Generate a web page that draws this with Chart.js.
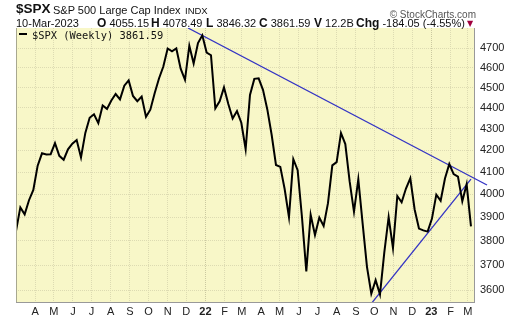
<!DOCTYPE html>
<html>
<head>
<meta charset="utf-8">
<script src="https://cdn.jsdelivr.net/npm/chart.js@4.4.1/dist/chart.umd.min.js"></script>
<style>
  body { margin: 0; background: #fff; }
  #wrap { position: relative; width: 520px; height: 318px; font-family: "Liberation Sans", Arial, sans-serif; color: #111; }
  #wrap canvas { position: absolute; left: 0; top: 0; }
  .t { position: absolute; white-space: pre; line-height: 1; font-size: 11px; }
  .b { font-weight: bold; font-size: 12px; }
</style>
</head>
<body>
<div id="wrap">
  <canvas id="spxChart" width="520" height="318"></canvas>
  <span class="t" style="left:16px;top:2px;font-size:13.5px;font-weight:bold;">$SPX</span>
  <span class="t" style="left:53px;top:5px;">S&amp;P 500 Large Cap Index</span>
  <span class="t" style="left:185px;top:6px;font-size:9.5px;">INDX</span>
  <span class="t" style="right:44px;top:10px;font-size:10px;color:#555;">© StockCharts.com</span>
  <span class="t" style="left:16px;top:18px;">10-Mar-2023</span>
  <span class="t" style="left:97px;top:17px;"><span class="b">O</span> 4055.15</span>
  <span class="t" style="left:151px;top:17px;"><span class="b">H</span> 4078.49</span>
  <span class="t" style="left:206px;top:17px;"><span class="b">L</span> 3846.32</span>
  <span class="t" style="left:259px;top:17px;"><span class="b">C</span> 3861.59</span>
  <span class="t" style="left:314px;top:17px;"><span class="b">V</span> 12.2B</span>
  <span class="t" style="left:356px;top:17px;"><span class="b">Chg</span> -184.05 (-4.55%)</span>
  <span class="t" style="left:467px;top:20px;font-size:8px;color:#a0003c;font-family:'DejaVu Sans';">▼</span>
  <span style="position:absolute;left:19px;top:33px;width:8px;height:2px;background:#000;"></span>
  <span class="t" style="left:32px;top:29.5px;font-family:'DejaVu Sans Mono',monospace;font-size:10.4px;">$SPX (Weekly) 3861.59</span>
</div>
<script>
// weekly closes, 5-Mar-2021 .. 10-Mar-2023
const closes = [
  3841.94, 3943.34, 3913.10, 3974.54, 4019.87, 4128.80, 4185.47, 4180.17, 4181.17,
  4232.60, 4173.85, 4155.86, 4204.11, 4229.89, 4247.44, 4166.45, 4280.70,
  4352.34, 4369.55, 4327.16, 4411.79, 4395.26, 4436.52, 4468.00, 4441.67, 4509.37,
  4535.43, 4458.58, 4432.99, 4455.48, 4357.04, 4391.34, 4471.37, 4544.90, 4605.38,
  4697.53, 4682.85, 4697.96, 4594.62, 4538.43, 4712.02, 4620.64, 4725.79, 4766.18,
  4677.03, 4662.85, 4397.94, 4431.85, 4500.53, 4418.64, 4348.87, 4384.65,
  4328.87, 4204.31, 4463.12, 4543.06, 4545.86, 4488.28, 4392.59, 4271.78, 4131.93,
  4123.34, 4023.89, 3901.36, 4158.24, 4108.54, 3900.86, 3674.84, 3911.74,
  3825.33, 3899.38, 3863.16, 3961.63, 4130.29, 4145.19, 4280.15, 4228.48, 4057.66,
  3924.26, 4067.36, 3873.33, 3693.23, 3585.62, 3639.66, 3583.07, 3752.75, 3901.06,
  3770.55, 3992.93, 3965.34, 4026.12, 4071.70, 3934.38, 3852.36, 3844.82, 3839.50,
  3895.08, 3999.09, 3972.61, 4070.56, 4136.48, 4090.46, 4079.09, 3970.04,
  4045.64, 3861.59
];
// trend lines as [week index, price]
const upperTrend = [[39.7, 4805], [108.7, 4042]];
const lowerTrend = [[82.1, 3549], [105.0, 4068]];

const monthLabels = ['A', 'M', 'J', 'J', 'A', 'S', 'O', 'N', 'D', '22', 'F', 'M',
  'A', 'M', 'J', 'J', 'A', 'S', 'O', 'N', 'D', '23', 'F', 'M'];
const yTicks = [3600, 3700, 3800, 3900, 4000, 4100, 4200, 4300, 4400, 4500, 4600, 4700];

// month starts in week units (first bar = week of 1-Mar-2021)
const firstWeek = Date.UTC(2021, 2, 1);
const monthTicks = monthLabels.map((_, i) => (Date.UTC(2021, 3 + i, 1) - firstWeek) / (7 * 864e5));
const isYear = i => /\d/.test(monthLabels[i]);

const plotBg = {
  id: 'plotBg',
  beforeDraw(chart) {
    const { ctx, chartArea: a } = chart;
    ctx.save();
    ctx.fillStyle = '#f8f7c8';
    ctx.fillRect(a.left, a.top, a.width, a.height);
    ctx.restore();
  },
  afterDraw(chart) {
    const { ctx, chartArea: a } = chart;
    ctx.save();
    ctx.strokeStyle = '#a8a890';
    ctx.beginPath();
    ctx.moveTo(a.left + 0.5, a.top);
    ctx.lineTo(a.left + 0.5, a.bottom);
    ctx.stroke();
    ctx.restore();
  }
};

const blue = '#3434c4';
new Chart(document.getElementById('spxChart'), {
  type: 'line',
  data: {
    datasets: [
      { data: closes.map((v, i) => ({ x: i, y: v })), borderColor: '#000', borderWidth: 2, pointRadius: 0, tension: 0 },
      { data: upperTrend.map(([x, y]) => ({ x, y })), borderColor: blue, borderWidth: 1.3, pointRadius: 0,
        clip: { left: 0, top: 0, right: 14, bottom: 0 } },
      { data: lowerTrend.map(([x, y]) => ({ x, y })), borderColor: blue, borderWidth: 1.3, pointRadius: 0 }
    ]
  },
  options: {
    responsive: false,
    animation: false,
    events: [],
    layout: { padding: { left: 16, top: 28, right: 0, bottom: 0 } },
    plugins: { legend: { display: false }, tooltip: { enabled: false } },
    scales: {
      x: {
        type: 'linear', min: 0, max: 105.7,
        afterFit: s => { s.height = 16; },
        afterBuildTicks: s => { s.ticks = monthTicks.map(v => ({ value: v })); },
        ticks: {
          autoSkip: false, maxRotation: 0, padding: 3, color: '#222',
          font: c => ({ family: 'Liberation Sans', size: 11, weight: isYear(c.index) ? 'bold' : 'normal' }),
          callback: (v, i) => monthLabels[i]
        },
        grid: { drawTicks: false, color: c => isYear(c.index) ? '#cbc9a0' : '#dddbb2' },
        border: { display: true, color: '#999', dash: [1, 1] }
      },
      y: {
        type: 'logarithmic', position: 'right', min: 3553, max: 4805,
        afterFit: s => { s.width = 46; },
        afterBuildTicks: s => { s.ticks = yTicks.map(v => ({ value: v })); },
        ticks: {
          padding: 6, color: '#222', font: { family: 'Liberation Sans', size: 11 },
          callback: v => String(v)
        },
        grid: { drawTicks: false, color: '#dddbb2' },
        border: { display: true, color: '#999', dash: [1, 1] }
      }
    }
  },
  plugins: [plotBg]
});
</script>
</body>
</html>
